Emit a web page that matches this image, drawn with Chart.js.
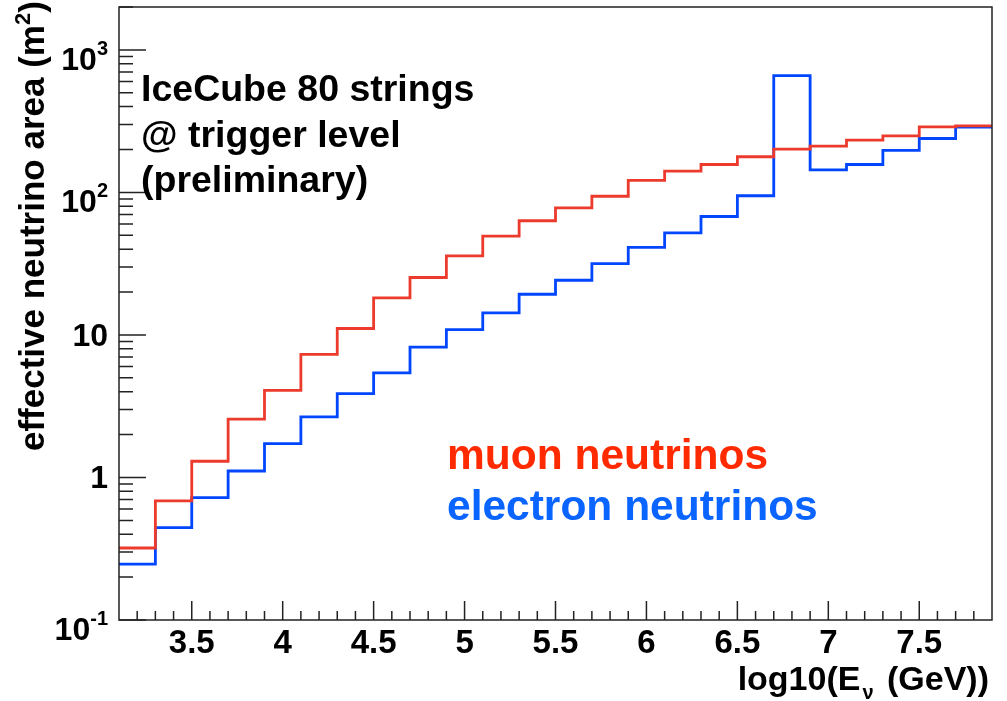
<!DOCTYPE html>
<html>
<head>
<meta charset="utf-8">
<script src="https://cdn.jsdelivr.net/npm/chart.js@4.4.0/dist/chart.umd.min.js"></script>
<style>
  body { margin: 0; background: #fff; }
  canvas { display: block; }
</style>
</head>
<body>
<canvas id="area" width="1007" height="701"></canvas>
<script>
// bin edges in log10(E/GeV), 24 bins of 0.2
const binEdges = [3.1, 3.3, 3.5, 3.7, 3.9, 4.1, 4.3, 4.5, 4.7, 4.9, 5.1, 5.3, 5.5,
                  5.7, 5.9, 6.1, 6.3, 6.5, 6.7, 6.9, 7.1, 7.3, 7.5, 7.7, 7.9]

// effective area (m^2) per bin
const muonArea = [0.32, 0.685, 1.3, 2.57, 4.08, 7.3, 11.1, 18.2, 25.3, 35.9, 49.4, 63.3,
                  77.8, 94, 121.5, 141, 157, 178, 201, 211, 233, 249, 288, 293]
const electronArea = [0.247, 0.445, 0.723, 1.11, 1.73, 2.66, 3.88, 5.42, 8.22, 10.9, 14.3, 19.3,
                      24.2, 31.7, 41.2, 52, 67.8, 94.8, 661, 144, 157, 197, 239, 287]

const xMajorTicks = [3.5, 4, 4.5, 5, 5.5, 6, 6.5, 7, 7.5]
const xTickLabels = ['3.5', '4', '4.5', '5', '5.5', '6', '6.5', '7', '7.5']
const xMinorTicks = [3.2, 3.3, 3.4, 3.6, 3.7, 3.8, 3.9, 4.1, 4.2, 4.3, 4.4, 4.6, 4.7, 4.8, 4.9,
                     5.1, 5.2, 5.3, 5.4, 5.6, 5.7, 5.8, 5.9, 6.1, 6.2, 6.3, 6.4, 6.6, 6.7, 6.8, 6.9,
                     7.1, 7.2, 7.3, 7.4, 7.6, 7.7, 7.8]
const yMajorTicks = [0.1, 1, 10, 100, 1000]
const yTickBase = ['10', '1', '10', '10', '10']
const yTickExp = ['-1', '', '', '2', '3']

const FONT = '"Liberation Sans", Arial, Helvetica, sans-serif'

// histogram outline: one point per edge, last value repeated
const toSteps = (vals) => binEdges.map((e, i) => ({ x: e, y: vals[Math.min(i, vals.length - 1)] }))

// draw a row of text pieces (for super/subscripts)
const drawPieces = (ctx, x, y, pieces) => {
    let cx = x
    pieces.forEach(p => {
        ctx.font = 'bold ' + p.size + 'px ' + FONT
        ctx.fillText(p.text, cx, y + (p.dy || 0))
        cx += ctx.measureText(p.text).width + (p.gap || 0)
    })
    return cx - x
}
const piecesWidth = (ctx, pieces) => {
    let w = 0
    pieces.forEach(p => {
        ctx.font = 'bold ' + p.size + 'px ' + FONT
        w += ctx.measureText(p.text).width + (p.gap || 0)
    })
    return w
}

const rootFrame = {
    id: 'rootFrame',
    afterDraw(chart) {
        const { ctx, chartArea: a, scales: { x, y } } = chart
        ctx.save()
        ctx.strokeStyle = '#222'
        ctx.lineWidth = 1.5
        ctx.strokeRect(a.left, a.top, a.right - a.left, a.bottom - a.top)

        // x ticks inside the frame
        ctx.beginPath()
        xMajorTicks.forEach(v => {
            const px = x.getPixelForValue(v)
            ctx.moveTo(px, a.bottom); ctx.lineTo(px, a.bottom - 19)
        })
        xMinorTicks.forEach(v => {
            const px = x.getPixelForValue(v)
            ctx.moveTo(px, a.bottom); ctx.lineTo(px, a.bottom - 9)
        })
        // y ticks, decades and 2..9 in between
        yMajorTicks.forEach((v, i) => {
            const py = y.getPixelForValue(v)
            ctx.moveTo(a.left, py); ctx.lineTo(a.left + 27, py)
            for (let k = 2; k <= 9; k++) {
                const m = v * k
                if (m > y.max) break
                const pm = y.getPixelForValue(m)
                ctx.moveTo(a.left, pm); ctx.lineTo(a.left + 14, pm)
            }
        })
        ctx.stroke()

        ctx.fillStyle = '#000'
        ctx.textBaseline = 'alphabetic'

        // x tick labels
        ctx.textAlign = 'center'
        ctx.font = 'bold 33px ' + FONT
        xMajorTicks.forEach((v, i) => {
            ctx.fillText(xTickLabels[i], x.getPixelForValue(v), a.bottom + 33)
        })

        // y tick labels with exponents
        ctx.textAlign = 'left'
        yMajorTicks.forEach((v, i) => {
            const py = y.getPixelForValue(v)
            const hasExp = yTickExp[i] !== ''
            const pieces = [{ text: yTickBase[i], size: 32, dy: hasExp ? 20 : 11 }]
            if (hasExp) pieces.push({ text: yTickExp[i], size: 20, dy: 5 })
            const w = piecesWidth(ctx, pieces)
            drawPieces(ctx, 108 - w, py, pieces)
        })

        // axis titles
        const xt = [
            { text: 'log10(E', size: 34, gap: 2 },
            { text: 'ν', size: 20, dy: 9, gap: 4 },
            { text: ' (GeV))', size: 34 }
        ]
        drawPieces(ctx, 989 - piecesWidth(ctx, xt), 690, xt)

        ctx.save()
        ctx.translate(44, 451)
        ctx.rotate(-Math.PI / 2)
        drawPieces(ctx, 0, 0, [
            { text: 'effective neutrino area (m', size: 35 },
            { text: '2', size: 22, dy: -14 },
            { text: ')', size: 35 }
        ])
        ctx.restore()

        // annotation
        ctx.font = 'bold 37.5px ' + FONT
        ctx.fillText('IceCube 80 strings', 141, 101)
        ctx.fillText('@ trigger level', 141, 147)
        ctx.fillText('(preliminary)', 141, 192)

        ctx.font = 'bold 42.5px ' + FONT
        ctx.fillStyle = '#ff2a00'
        ctx.fillText('muon neutrinos', 447, 469)
        ctx.fillStyle = '#0a64ff'
        ctx.fillText('electron neutrinos', 447, 520)
        ctx.restore()
    }
}

const ctx = document.getElementById('area')
const myChart = new Chart(ctx, {
    type: 'line',
    data: {
        datasets: [{
            label: 'muon neutrinos',
            data: toSteps(muonArea),
            borderColor: '#ec3a2c',
            borderWidth: 2.8,
            stepped: 'before',
            pointRadius: 0,
            fill: false,
            order: 0
        }, {
            label: 'electron neutrinos',
            data: toSteps(electronArea),
            borderColor: '#0046ff',
            borderWidth: 2.8,
            stepped: 'before',
            pointRadius: 0,
            fill: false,
            order: 1
        }]
    },
    options: {
        responsive: false,
        animation: false,
        devicePixelRatio: 1,
        layout: { padding: { left: 119, top: 7, right: 15, bottom: 81 } },
        plugins: {
            legend: { display: false },
            tooltip: { enabled: false }
        },
        scales: {
            x: { type: 'linear', min: 3.1, max: 7.9, display: false },
            y: { type: 'logarithmic', min: 0.1, max: 2000, display: false }
        }
    },
    plugins: [rootFrame]
})
</script>
</body>
</html>
